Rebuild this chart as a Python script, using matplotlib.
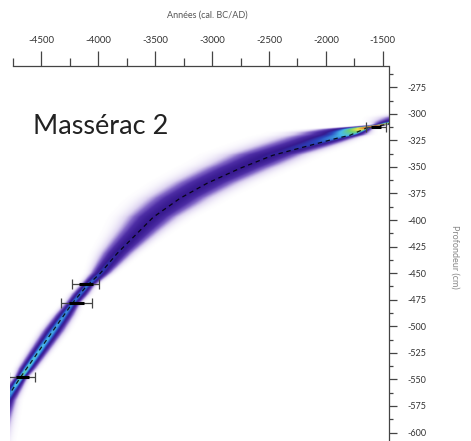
import numpy as np
import matplotlib.pyplot as plt
from matplotlib.colors import LinearSegmentedColormap
from matplotlib.ticker import MultipleLocator

plt.rcParams['axes.unicode_minus'] = False
plt.rcParams['font.family'] = ['Lato', 'DejaVu Sans']

# mean age-depth curve (years cal. BC/AD, depth cm)
mean_age = [-700, -1000, -1264, -1456, -1649, -1789, -1903, -2202, -2465, -2754, -3044,
            -3281, -3518, -3658, -3833, -3982, -4105, -4228, -4395, -4684, -4816, -4990]
mean_depth = [-294, -299, -304, -309.8, -313.6, -320.2, -323.0, -331.5, -339.0, -351.3, -365.4,
              -379.5, -397.4, -412.5, -431.3, -450.1, -462.4, -478.4, -503.8, -548.1, -569.7, -615]

# probability band of the model (spread to older / younger ages, peak density)
band_depth = [-285, -295, -303, -308, -311, -313, -315, -318, -322, -328, -336, -348, -365, -385,
              -410, -435, -450, -458, -462, -470, -478, -490, -505, -525, -540, -548, -560, -580, -615]
band_sd_old = [200, 170, 140, 90, 40, 90, 180, 240, 250, 240, 220, 190, 170, 150,
               110, 75, 50, 40, 35, 40, 35, 45, 50, 45, 40, 30, 40, 55, 80]
band_sd_young = [150, 120, 90, 60, 30, 30, 40, 60, 80, 110, 140, 160, 155, 140,
                 100, 70, 50, 40, 35, 40, 35, 45, 50, 45, 40, 30, 40, 55, 80]
band_peak = [0.30, 0.35, 0.42, 0.6, 1.0, 1.0, 0.9, 0.74, 0.62, 0.52, 0.45, 0.42, 0.41, 0.41,
             0.42, 0.45, 0.5, 0.56, 0.58, 0.56, 0.58, 0.6, 0.62, 0.65, 0.68, 0.72, 0.62, 0.55, 0.45]

# calibrated dates
date_age = [-1560, -4110, -4190, -4667]
date_depth = [-312, -460, -478, -548]
date_err2 = [90, 118, 136, 114]
date_err1 = [40, 60, 65, 55]

fig = plt.figure(figsize=(4.71, 4.41), dpi=100)
ax = fig.add_axes([9.5 / 471, 0, 379 / 471, 375 / 441])

cmap = LinearSegmentedColormap.from_list('bacon', [
    (0.0, '#ffffff'), (0.07, '#ddd3f1'), (0.17, '#8469c8'), (0.28, '#4e2ea6'),
    (0.42, '#36198e'), (0.53, '#2a48c0'), (0.64, '#48bcec'), (0.75, '#6cd070'),
    (0.87, '#f2e24a'), (1.0, '#d83020')])

ages = np.linspace(-4800, -1400, 700)
depths = np.linspace(-615, -285, 900)
A, D = np.meshgrid(ages, depths)
bd = np.array(band_depth)[::-1]
centre = np.interp(D, np.array(mean_depth)[::-1], np.array(mean_age)[::-1])
s_old = np.interp(D, bd, np.array(band_sd_old)[::-1])
s_young = np.interp(D, bd, np.array(band_sd_young)[::-1])
peak = np.interp(D, bd, np.array(band_peak)[::-1])
dx = A - centre
s = np.where(dx < 0, s_old, s_young)
dens = peak * np.exp(-0.5 * (dx / s) ** 2)

ax.imshow(dens, extent=[ages[0], ages[-1], depths[0], depths[-1]], origin='lower',
          aspect='auto', cmap=cmap, vmin=0, vmax=1, interpolation='bilinear')

ax.plot(mean_age, mean_depth, color='k', lw=0.9, ls=(0, (3.5, 3)), alpha=0.85)

ax.errorbar(date_age, date_depth, xerr=date_err2, fmt='none', ecolor='#444444',
            elinewidth=0.9, capsize=3.3, capthick=0.9)
ax.hlines(date_depth, np.array(date_age) - date_err1, np.array(date_age) + date_err1,
          color='k', lw=2.2)

ax.set_xlim(-4780, -1450)
ax.set_ylim(-608, -255)

ax.xaxis.tick_top()
ax.yaxis.tick_right()
ax.xaxis.set_major_locator(MultipleLocator(500))
ax.xaxis.set_minor_locator(MultipleLocator(250))
ax.yaxis.set_major_locator(MultipleLocator(25))
ax.yaxis.set_minor_locator(MultipleLocator(12.5))

ax.spines['left'].set_visible(False)
ax.spines['bottom'].set_visible(False)
ax.spines['top'].set_bounds(-4750, -1450)
for sp in ['top', 'right']:
    ax.spines[sp].set_color('#444444')
    ax.spines[sp].set_linewidth(0.9)

ax.tick_params(axis='x', which='major', direction='out', length=11, width=0.9,
               color='#444444', labelsize=7, pad=4, labelcolor='#333333')
ax.tick_params(axis='x', which='minor', direction='out', length=5.5, width=0.9, color='#444444')
ax.tick_params(axis='y', which='major', direction='out', length=5.5, width=0.9,
               color='#444444', labelsize=6.5, pad=8, labelcolor='#333333')
ax.tick_params(axis='y', which='minor', direction='out', length=3, width=0.9, color='#444444')

fig.text(207 / 471, 1 - 15 / 441, 'Années (cal. BC/AD)', ha='center', va='center',
         fontsize=6.5, color='#555555')
fig.text(455 / 471, 1 - 257 / 441, 'Profondeur (cm)', rotation=270, ha='center', va='center',
         fontsize=6.5, color='#888888')
fig.text(33 / 471, 1 - 127 / 441, 'Massérac 2', ha='left', va='center',
         fontsize=19.5, color='#222222')

fig.savefig('out.png', dpi=100)
